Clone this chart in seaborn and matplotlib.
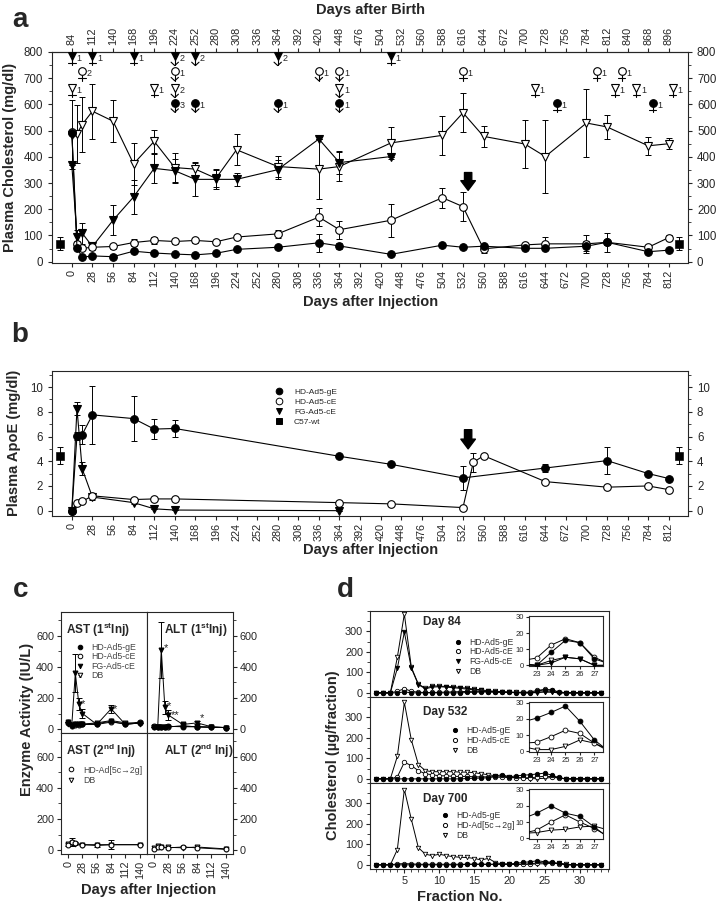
import numpy as np
import matplotlib
matplotlib.use('Agg')
import matplotlib.pyplot as plt
from matplotlib.ticker import MultipleLocator
from matplotlib.lines import Line2D
import seaborn as sns

sns.set_style('ticks')
plt.rcParams['font.family'] = ['Liberation Sans', 'DejaVu Sans']
plt.rcParams['mathtext.fontset'] = 'custom'
plt.rcParams['mathtext.rm'] = 'Liberation Sans'
plt.rcParams['mathtext.bf'] = 'Liberation Sans:bold'

# ---------------- panel a: plasma cholesterol ----------------
a_days = [0, 7, 14, 28, 56, 84, 112, 140, 168, 196, 224, 280, 336, 364, 434,
          504, 532, 560, 616, 644, 700, 728, 784, 812]
a_gE = [490, 53, 17, 22, 19, 40, 33, 29, 26, 32, 47, 55, 72, 60, 28,
        63, 55, 59, 51, 51, 59, 74, 38, 44]
a_gE_err = [0, 8, 5, 5, 5, 8, 6, 5, 5, 5, 6, 8, 35, 10, 5,
            8, 6, 8, 6, 6, 20, 10, 6, 5]
a_cE = [494, 68, 51, 55, 58, 73, 81, 77, 81, 76, 94, 106, 170, 122, 158,
        244, 210, 49, 64, 68, 68, 74, 55, 92]
a_cE_err = [0, 10, 8, 8, 8, 12, 12, 8, 10, 8, 8, 15, 35, 35, 63,
            38, 55, 15, 8, 25, 35, 37, 10, 8]
a_DB = [485, 488, 523, 574, 536, 373, 459, 359, 353, 318, 427, 363, 353, 363, 453,
        482, 568, 478, 449, 401, 529, 514, 442, 450]
a_DB_err = [130, 110, 105, 105, 80, 80, 45, 55, 25, 35, 60, 40, 115, 55, 60,
            75, 75, 40, 90, 140, 130, 45, 35, 20]
a_days_FG = [0, 7, 14, 28, 56, 84, 112, 140, 168, 196, 224, 280, 336, 364, 434]
a_FG = [368, 96, 109, 58, 158, 247, 356, 347, 314, 314, 314, 351, 468, 378, 401]
a_FG_err = [0, 25, 40, 15, 57, 65, 55, 45, 65, 35, 25, 35, 0, 45, 0]
c57_days = [-16, 826]
a_c57 = [68, 68]
a_c57_err = [25, 25]

# deaths (day, number of animals, '+' = cross, 'v' = arrow)
dead_FG_days = [0, 28, 84, 140, 168, 280, 434]
dead_FG_n = [1, 1, 1, 2, 2, 2, 1]
dead_FG_kind = ['+', '+', '+', 'v', 'v', 'v', '+']
dead_cE_days = [14, 140, 336, 364, 532, 714, 748]
dead_cE_n = [2, 1, 1, 1, 1, 1, 1]
dead_cE_kind = ['+', 'v', 'v', 'v', '+', '+', '+']
dead_DB_days = [0, 112, 140, 364, 630, 739, 768, 817]
dead_DB_n = [1, 1, 2, 1, 1, 1, 1, 1]
dead_DB_kind = ['+', '+', 'v', 'v', '+', '+', '+', '+']
dead_gE_days = [140, 168, 280, 364, 660, 790]
dead_gE_n = [3, 1, 1, 1, 1, 1]
dead_gE_kind = ['v', 'v', 'v', 'v', '+', '+']

# ---------------- panel b: plasma apoE ----------------
b_days = [0, 7, 14, 28, 84, 112, 140, 364, 434, 532, 644, 728, 784, 812]
b_gE = [0, 6.05, 6.15, 7.75, 7.45, 6.6, 6.65, 4.4, 3.75, 2.65, 3.45, 4.05, 3.0, 2.6]
b_gE_err = [0, 0.3, 0.75, 2.35, 1.8, 0.8, 0.65, 0.1, 0.1, 0.95, 0.3, 1.1, 0.1, 0.1]
b_days_cE = [0, 7, 14, 28, 84, 112, 140, 364, 434, 532, 546, 560, 644, 728, 784, 812]
b_cE = [0, 0.65, 0.75, 1.2, 0.9, 0.95, 0.95, 0.65, 0.55, 0.25, 3.9, 4.45, 2.35, 1.9, 2.0, 1.7]
b_cE_err = [0, 0, 0, 0.15, 0, 0, 0, 0, 0, 0, 0.8, 0, 0, 0, 0, 0]
b_days_FG = [0, 7, 14, 28, 84, 112, 140, 364]
b_FG = [0, 8.25, 3.4, 1.1, 0.65, 0.15, 0.05, 0.0]
b_FG_err = [0, 0.55, 0.5, 0.2, 0.1, 0, 0, 0]
b_c57 = [4.45, 4.45]
b_c57_err = [0.7, 0.7]

# ---------------- panel c: liver enzymes ----------------
c_days = [0, 7, 14, 21, 28, 56, 84, 112, 140]
ast1_gE = [40, 25, 30, 30, 30, 35, 50, 30, 40]
ast1_cE = [45, 20, 25, 28, 30, 30, 45, 35, 45]
ast1_FG = [45, 20, 360, 160, 100, 30, 130, 30, 40]
ast1_FG_err = [0, 0, 120, 40, 30, 0, 25, 0, 0]
ast1_DB = [35, 25, 30, 30, 32, 40, 55, 40, 35]
alt1_gE = [15, 12, 15, 15, 18, 15, 15, 12, 10]
alt1_cE = [18, 12, 12, 15, 15, 20, 15, 12, 10]
alt1_FG = [15, 12, 510, 140, 90, 30, 40, 15, 10]
alt1_FG_err = [0, 0, 180, 40, 30, 10, 10, 0, 0]
alt1_DB = [15, 12, 15, 15, 15, 20, 15, 12, 10]
c2_days = [0, 7, 14, 28, 56, 84, 140]
ast2_sw = [35, 50, 45, 35, 30, 35, 35]
ast2_sw_err = [10, 25, 10, 5, 10, 30, 5]
ast2_DB = [40, 45, 40, 35, 35, 35, 35]
alt2_sw = [10, 20, 18, 15, 20, 15, 5]
alt2_DB = [12, 25, 20, 18, 15, 20, 8]

# ---------------- panel d: FPLC profiles ----------------
fractions = [1, 2, 3, 4, 5, 6, 7, 8, 9, 10, 11, 12, 13, 14, 15, 16, 17,
             18, 19, 20, 21, 22, 23, 24, 25, 26, 27, 28, 29, 30, 31, 32, 33]
d84_gE = [0, 0, 0, 0, 5, 0, 0, 0, 0, 0, 0, 0, 0, 2, 3, 4, 4, 3, 2, 2, 1, 1,
          0, 8, 15.5, 14, 4, 1, 0, 0, 0, 0, 0]
d84_cE = [0, 0, 0, 8, 20, 8, 3, 2, 2, 3, 4, 5, 6, 7, 8, 7, 6, 5, 4, 3, 3, 3,
          4.5, 12.5, 16.5, 14, 5, 1, 0, 0, 0, 0, 0]
d84_FG = [0, 0, 0, 120, 297, 120, 40, 20, 28, 30, 28, 25, 22, 18, 15, 12, 8, 6, 4, 2, 1, 0,
          0, 1.4, 5, 4, 0, 0, 0, 0, 0, 0, 0]
d84_DB = [0, 0, 0, 174, 385, 125, 43, 23, 34, 33, 31, 30, 26, 23, 18, 15, 10, 8, 6, 4, 2, 1,
          0, 3, 5, 4, 0, 0, 0, 0, 0, 0, 0]
d532_gE = [0, 0, 0, 0, 0, 0, 0, 0, 0, 0, 0, 0, 0, 2, 3, 4, 5, 15, 20, 10, 15, 18,
           20.5, 24, 28, 18.5, 7, 0, 0, 0, 0, 0, 0]
d532_cE = [0, 0, 0, 10, 81, 65, 40, 25, 20, 15, 15, 12, 12, 12, 10, 10, 10, 8, 8, 6, 6, 5,
           5.5, 9, 13, 11, 5, 1, 0, 0, 0, 0, 0]
d532_DB = [0, 0, 0, 110, 373, 190, 70, 40, 35, 35, 35, 35, 33, 33, 30, 25, 20, 15, 12, 10, 6, 3,
           1, 1, 3, 7, 5, 0, 0, 0, 0, 0, 0]
d700_gE = [0, 0, 0, 0, 0, 0, 0, 0, 0, 0, 0, 0, 0, 3, 3, 3, 2, 3, 3, 4, 8, 12,
           15.5, 20, 15.5, 13.5, 7, 0, 0, 0, 0, 0, 0]
d700_sw = [0, 0, 0, 5, 6, 5, 3, 3, 3, 3, 3, 3, 3, 3, 3, 3, 3, 3, 3, 3, 3, 3,
           5, 10, 14.5, 10, 6, 1, 0, 0, 0, 0, 0]
d700_DB = [0, 0, 0, 75, 368, 222, 84, 52, 45, 52, 45, 40, 37, 36, 31, 24, 32, 11, 5, 3, 2, 3,
           3.5, 5, 5.5, 7, 7.5, 5, 0, 0, 0, 0, 0]

STY = {'gE': ('o', 'black'), 'cE': ('o', 'white'), 'FG': ('v', 'black'),
       'DB': ('v', 'white'), 'C57': ('s', 'black')}
ARROW = 'simple,head_width=1.5,head_length=1.0,tail_width=0.75'


def series(ax, x, y, kind, err=None, ms=5.5, lw=0.8, mew=0.8):
    mk, fc = STY[kind]
    if err is not None:
        ax.errorbar(x, y, yerr=err, fmt='none', ecolor='black', elinewidth=0.7,
                    capsize=2, capthick=0.7, zorder=2)
    sns.lineplot(x=x, y=y, ax=ax, color='black', linewidth=lw, marker=mk,
                 markersize=ms, markerfacecolor=fc, markeredgecolor='black',
                 markeredgewidth=mew, sort=False, estimator=None, legend=False, zorder=3)


def c57(ax, x, y, err, ms=5.5):
    ax.errorbar(x, y, yerr=err, fmt='none', ecolor='black', elinewidth=0.7,
                capsize=2, capthick=0.7, zorder=2)
    sns.scatterplot(x=x, y=y, ax=ax, marker='s', s=ms ** 2, color='black',
                    edgecolor='black', legend=False, zorder=3)


def deaths(ax, days, ns, kinds, yv, kind):
    mk, fc = STY[kind]
    for d, n, k in zip(days, ns, kinds):
        ax.plot([d, d], [yv - 5, yv - 36], color='black', lw=0.8, zorder=4)
        if k == '+':
            ax.plot([d - 5, d + 5], [yv - 27, yv - 27], color='black', lw=0.8, zorder=4)
        else:
            ax.plot([d - 5, d, d + 5], [yv - 24, yv - 37, yv - 24], color='black', lw=0.8, zorder=4)
        ax.plot([d], [yv], marker=mk, ms=5.5, mfc=fc, mec='black', mew=0.8, zorder=5)
        ax.text(d + 6, yv - 10, str(n), fontsize=6.5, va='center', ha='left')


def big_arrow(ax, x, y0, y1):
    ax.annotate('', xy=(x, y1), xytext=(x, y0),
                arrowprops=dict(arrowstyle=ARROW, color='black', mutation_scale=7,
                                shrinkA=0, shrinkB=0))


def legend_handles(kinds, labels, ms):
    return [Line2D([], [], ls='none', marker=STY[k][0], mfc=STY[k][1], mec='black',
                   mew=0.7, ms=ms, label=l) for k, l in zip(kinds, labels)]


fig = plt.figure(figsize=(7.2, 9.1), dpi=100)
TK = 7.8

# ======== a ========
ax = fig.add_axes([0.0722, 0.711, 0.8833, 0.2319])
series(ax, a_days, a_DB, 'DB', a_DB_err)
series(ax, a_days_FG, a_FG, 'FG', a_FG_err)
series(ax, a_days, a_cE, 'cE', a_cE_err)
series(ax, a_days, a_gE, 'gE', a_gE_err)
c57(ax, c57_days, a_c57, a_c57_err)
deaths(ax, dead_FG_days, dead_FG_n, dead_FG_kind, 785, 'FG')
deaths(ax, dead_cE_days, dead_cE_n, dead_cE_kind, 727, 'cE')
deaths(ax, dead_DB_days, dead_DB_n, dead_DB_kind, 663, 'DB')
deaths(ax, dead_gE_days, dead_gE_n, dead_gE_kind, 607, 'gE')
big_arrow(ax, 539, 340, 272)
ax.set_xlim(-27, 838)
ax.set_ylim(-5, 800)
ax.set_xticks(np.arange(0, 813, 28))
ax.set_yticks(np.arange(0, 801, 100))
ax.yaxis.set_minor_locator(MultipleLocator(50))
ax.tick_params(axis='x', labelrotation=90, labelsize=TK, length=3, pad=2)
ax.tick_params(axis='y', labelsize=TK + 0.5, length=3, right=True, labelright=True)
ax.tick_params(axis='y', which='minor', length=2, right=True)
ax.set_xlabel('')
ax.set_ylabel('')
top = ax.secondary_xaxis('top', functions=(lambda d: d + 84, lambda b: b - 84))
top.set_xticks(np.arange(84, 897, 28))
top.tick_params(labelrotation=90, labelsize=TK, length=3, pad=2)

# ======== b ========
bx = fig.add_axes([0.0722, 0.4334, 0.8833, 0.1589])
series(bx, b_days_FG, b_FG, 'FG', b_FG_err)
series(bx, b_days_cE, b_cE, 'cE', b_cE_err)
series(bx, b_days, b_gE, 'gE', b_gE_err)
c57(bx, c57_days, b_c57, b_c57_err)
big_arrow(bx, 539, 6.55, 5.0)
bx.set_xlim(-27, 838)
bx.set_ylim(-0.4, 11.3)
bx.set_xticks(np.arange(0, 813, 28))
bx.set_yticks(np.arange(0, 11, 2))
bx.yaxis.set_minor_locator(MultipleLocator(1))
bx.tick_params(axis='x', labelrotation=90, labelsize=TK, length=3, pad=2)
bx.tick_params(axis='y', labelsize=TK + 0.5, length=3, right=True, labelright=True)
bx.tick_params(axis='y', which='minor', length=2, right=True)
bx.set_xlabel('')
bx.set_ylabel('')
bx.legend(handles=legend_handles(['gE', 'cE', 'FG', 'C57'],
                                 ['HD-Ad5-gE', 'HD-Ad5-cE', 'FG-Ad5-cE', 'C57-wt'], 4.8),
          loc='upper left', bbox_to_anchor=(0.345, 0.905), frameon=False, fontsize=6,
          handlelength=1.0, handletextpad=1.3, labelspacing=0.25, borderaxespad=0)

# ======== c ========
cw, ch = 0.1194, 0.1330
c_axes = {}
for r, bottom in enumerate([0.1945, 0.0615]):
    for col, left in enumerate([0.0847, 0.0847 + cw]):
        c_axes[(r, col)] = fig.add_axes([left, bottom, cw, ch])

cms = 3.5
ax1 = c_axes[(0, 0)]
series(ax1, c_days, ast1_DB, 'DB', ms=cms, lw=0.7)
series(ax1, c_days, ast1_cE, 'cE', ms=cms, lw=0.7)
series(ax1, c_days, ast1_gE, 'gE', ms=cms, lw=0.7)
series(ax1, c_days, ast1_FG, 'FG', ast1_FG_err, ms=cms, lw=0.7)
ax2 = c_axes[(0, 1)]
series(ax2, c_days, alt1_DB, 'DB', ms=cms, lw=0.7)
series(ax2, c_days, alt1_cE, 'cE', ms=cms, lw=0.7)
series(ax2, c_days, alt1_gE, 'gE', ms=cms, lw=0.7)
series(ax2, c_days, alt1_FG, 'FG', alt1_FG_err, ms=cms, lw=0.7)
ax3 = c_axes[(1, 0)]
series(ax3, c2_days, ast2_DB, 'DB', ms=cms, lw=0.7)
series(ax3, c2_days, ast2_sw, 'cE', ast2_sw_err, ms=cms, lw=0.7)
ax4 = c_axes[(1, 1)]
series(ax4, c2_days, alt2_DB, 'DB', ms=cms, lw=0.7)
series(ax4, c2_days, alt2_sw, 'cE', ms=cms, lw=0.7)

for x, y, s in [(18, 330, '*'), (25, 160, '*'), (88, 130, '*')]:
    ax1.text(x, y, s, fontsize=8, ha='left', va='center')
for x, y, s in [(18, 520, '*'), (25, 150, '*'), (32, 90, '**'), (90, 70, '*')]:
    ax2.text(x, y, s, fontsize=8, ha='left', va='center')

titles = {(0, 0): r'AST (1$^{\mathbf{st}}$Inj)', (0, 1): r'ALT (1$^{\mathbf{st}}$Inj)',
          (1, 0): r'AST (2$^{\mathbf{nd}}$ Inj)', (1, 1): r'ALT (2$^{\mathbf{nd}}$ Inj)'}
for (r, col), a in c_axes.items():
    a.set_xlim(-14, 154)
    a.set_ylim(-25, 752)
    a.set_yticks([0, 200, 400, 600])
    a.yaxis.set_minor_locator(MultipleLocator(100))
    a.set_xticks(np.arange(0, 141, 28))
    a.set_xlabel('')
    a.set_ylabel('')
    a.tick_params(labelsize=7.8, length=3, pad=2)
    a.tick_params(which='minor', length=2)
    if r == 0:
        a.tick_params(axis='x', bottom=False, labelbottom=False)
    else:
        a.tick_params(axis='x', labelrotation=90)
    if col == 1:
        a.tick_params(axis='y', which='both', left=False, labelleft=False, right=True, labelright=True)
    a.text(0.06 if col == 0 else 0.2, 0.93, titles[(r, col)], transform=a.transAxes,
           fontsize=8.5, fontweight='bold', ha='left', va='top')

ax1.legend(handles=legend_handles(['gE', 'cE', 'FG', 'DB'],
                                  ['HD-Ad5-gE', 'HD-Ad5-cE', 'FG-Ad5-cE', 'DB'], 3.3),
           loc='upper left', bbox_to_anchor=(0.14, 0.775), frameon=False, fontsize=6.3,
           handlelength=0.8, handletextpad=0.9, labelspacing=0.05, borderaxespad=0,
           labelcolor='#444444')
ax3.legend(handles=legend_handles(['cE', 'DB'], ['HD-Ad[5c\u21922g]', 'DB'], 3.3),
           loc='upper left', bbox_to_anchor=(0.04, 0.76), frameon=False, fontsize=6.3,
           handlelength=0.8, handletextpad=0.9, labelspacing=0.2, borderaxespad=0,
           labelcolor='#444444')

# ======== d ========
dl, dw, dh = 0.5139, 0.3319, 0.0945
d_sets = [
    ('Day 84', [('DB', d84_DB), ('FG', d84_FG), ('cE', d84_cE), ('gE', d84_gE)],
     ['HD-Ad5-gE', 'HD-Ad5-cE', 'FG-Ad5-cE', 'DB'], ['gE', 'cE', 'FG', 'DB'],
     0.2341, 0.268, 0.867, 0.34, 0.73),
    ('Day 532', [('DB', d532_DB), ('cE', d532_cE), ('gE', d532_gE)],
     ['HD-Ad5-gE', 'HD-Ad5-cE', 'DB'], ['gE', 'cE', 'DB'],
     0.1396, 0.1736, 0.82, 0.328, 0.70),
    ('Day 700', [('DB', d700_DB), ('cE', d700_sw), ('gE', d700_gE)],
     ['HD-Ad5-gE', 'HD-Ad[5c\u21922g]', 'DB'], ['gE', 'cE', 'DB'],
     0.0451, 0.078, 0.814, 0.285, 0.71),
]
dms = 3.2
for i, (title, sets, labels, kinds, bottom, ibottom, ty, lx, ly) in enumerate(d_sets):
    a = fig.add_axes([dl, bottom, dw, dh])
    for k, vals in sets:
        series(a, fractions, vals, k, ms=dms, lw=0.7, mew=0.6)
    a.set_xlim(0.1, 34.2)
    a.set_ylim(-20, 400)
    a.set_yticks([0, 100, 200, 300])
    a.yaxis.set_minor_locator(MultipleLocator(50))
    a.set_xticks([5, 10, 15, 20, 25, 30])
    a.xaxis.set_minor_locator(MultipleLocator(1))
    a.set_xlabel('')
    a.set_ylabel('')
    a.tick_params(labelsize=7.8, length=3, pad=2)
    a.tick_params(which='minor', length=2)
    if i < 2:
        a.tick_params(axis='x', which='both', bottom=False, labelbottom=False)
    a.text(0.22, ty, title, transform=a.transAxes, fontsize=8.5, fontweight='bold',
           ha='left', va='center')
    a.legend(handles=legend_handles(kinds, labels, 3.0), loc='upper left',
             bbox_to_anchor=(lx, ly), frameon=False, fontsize=6.2, handlelength=0.8,
             handletextpad=0.9, labelspacing=0.1, borderaxespad=0, labelcolor='#333333')
    ins = fig.add_axes([0.7347, ibottom, 0.1028, 0.055])
    for k, vals in sets:
        series(ins, fractions, vals, k, ms=3.5, lw=0.7, mew=0.6)
    ins.set_xlim(22.47, 27.6)
    ins.set_ylim(-0.5, 30.5)
    ins.set_xticks([23, 24, 25, 26, 27])
    ins.set_yticks([0, 10, 20, 30])
    ins.set_xlabel('')
    ins.set_ylabel('')
    ins.tick_params(labelsize=5.5, length=2, pad=1.5)

# ======== labels ========
fig.text(0.028, 0.978, 'a', fontsize=20, fontweight='bold', ha='center', va='center')
fig.text(0.028, 0.632, 'b', fontsize=20, fontweight='bold', ha='center', va='center')
fig.text(0.028, 0.352, 'c', fontsize=20, fontweight='bold', ha='center', va='center')
fig.text(0.479, 0.352, 'd', fontsize=20, fontweight='bold', ha='center', va='center')
fig.text(0.514, 0.989, 'Days after Birth', fontsize=10.5, fontweight='bold', ha='center', va='center')
fig.text(0.514, 0.668, 'Days after Injection', fontsize=10.5, fontweight='bold', ha='center', va='center')
fig.text(0.514, 0.396, 'Days after Injection', fontsize=10.5, fontweight='bold', ha='center', va='center')
fig.text(0.206, 0.022, 'Days after Injection', fontsize=10.5, fontweight='bold', ha='center', va='center')
fig.text(0.639, 0.014, 'Fraction No.', fontsize=10.5, fontweight='bold', ha='center', va='center')
fig.text(0.014, 0.827, 'Plasma Cholesterol (mg/dl)', fontsize=10.5, fontweight='bold',
         rotation=90, ha='center', va='center')
fig.text(0.019, 0.513, 'Plasma ApoE (mg/dl)', fontsize=10.5, fontweight='bold',
         rotation=90, ha='center', va='center')
fig.text(0.0375, 0.209, 'Enzyme Activity (IU/L)', fontsize=10.5, fontweight='bold',
         rotation=90, ha='center', va='center')
fig.text(0.463, 0.170, 'Cholesterol (\u00b5g/fraction)', fontsize=10.5, fontweight='bold',
         rotation=90, ha='center', va='center')

fig.savefig('out.png', dpi=100)
